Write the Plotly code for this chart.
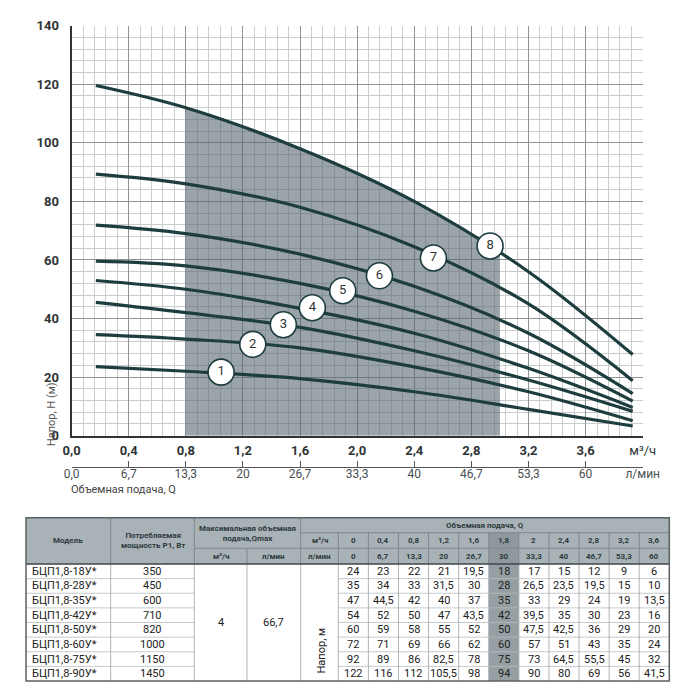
import plotly.graph_objects as go

# page body has an 8px margin, so the figure is sized to fill the rest of the window
OFF = 8
W, H = 700 - OFF, 700 - OFF

table_q = [0, 0.4, 0.8, 1.2, 1.6, 1.8, 2.0, 2.4, 2.8, 3.2, 3.6]
table_q_text = ["0", "0,4", "0,8", "1,2", "1,6", "1,8", "2", "2,4", "2,8", "3,2", "3,6"]
table_lmin_text = ["0", "6,7", "13,3", "20", "26,7", "30", "33,3", "40", "46,7", "53,3", "60"]

models = ["БЦП1,8-18У*", "БЦП1,8-28У*", "БЦП1,8-35У*", "БЦП1,8-42У*",
          "БЦП1,8-50У*", "БЦП1,8-60У*", "БЦП1,8-75У*", "БЦП1,8-90У*"]
power_w = [350, 450, 600, 710, 820, 1000, 1150, 1450]
qmax_m3h = "4"
qmax_lmin = "66,7"

head_18 = [24, 23, 22, 21, 19.5, 18, 17, 15, 12, 9, 6]
head_28 = [35, 34, 33, 31.5, 30, 28, 26.5, 23.5, 19.5, 15, 10]
head_35 = [47, 44.5, 42, 40, 37, 35, 33, 29, 24, 19, 13.5]
head_42 = [54, 52, 50, 47, 43.5, 42, 39.5, 35, 30, 23, 16]
head_50 = [60, 59, 58, 55, 52, 50, 47.5, 42.5, 36, 29, 20]
head_60 = [72, 71, 69, 66, 62, 60, 57, 51, 43, 35, 24]
head_75 = [92, 89, 86, 82.5, 78, 75, 73, 64.5, 55.5, 45, 32]
head_90 = [122, 116, 112, 105.5, 98, 94, 90, 80, 69, 56, 41.5]
heads = [head_18, head_28, head_35, head_42, head_50, head_60, head_75, head_90]

# curves: ends as drawn on the chart, middle points from the table at these flows
curve_start_q = 0.17
curve_end_q = 3.93
curve_mid_q = [0.8, 1.6, 2.4, 3.2]
curve_start_head = [23.6, 34.5, 45.5, 53.0, 59.6, 71.9, 89.3, 119.6]
curve_end_head = [3.3, 5.1, 8.3, 9.65, 11.8, 14.4, 18.8, 27.7]

# working zone (shaded) under curve 8
shade_start_q = 0.8
shade_end_q = 3.0
shade_end_head = 63

# numbered circle labels
label_num = ["1", "2", "3", "4", "5", "6", "7", "8"]
label_q = [1.047, 1.269, 1.483, 1.686, 1.899, 2.156, 2.534, 2.931]
label_h = [21.7, 31.2, 37.9, 43.7, 49.5, 54.6, 60.7, 64.8]

# axis labels
axis_q = [0.0, 0.4, 0.8, 1.2, 1.6, 2.0, 2.4, 2.8, 3.2, 3.6, 4.0]
axis_q_text = ["0,0", "0,4", "0,8", "1,2", "1,6", "2,0", "2,4", "2,8", "3,2", "3,6"]
axis_lmin_text = ["0,0", "6,7", "13,3", "20", "26,7", "33,3", "40", "46,7", "53,3", "60"]

CURVE = "#1e3d3f"
TXT = "#2f3436"


def fmt(v):
    return ("%g" % v).replace(".", ",")


def X(px):
    return (px - OFF) / W


def Y(py):
    return 1 - (py - OFF) / H


fig = go.Figure()

# shaded zone
sx = [q for q in table_q if shade_start_q <= q <= 2.8 and q != 1.8] + [shade_end_q]
sy = [h for q, h in zip(table_q, head_90) if shade_start_q <= q <= 2.8 and q != 1.8] + [shade_end_head]
fig.add_trace(go.Scatter(
    x=sx, y=sy, mode="lines", line=dict(width=0, shape="spline"),
    fill="tozeroy", fillcolor="rgba(88,104,112,0.6)", hoverinfo="skip"))

# performance curves
for i in range(8):
    mid = [heads[i][table_q.index(q)] for q in curve_mid_q]
    cx_ = [curve_start_q] + curve_mid_q + [curve_end_q]
    cy_ = [curve_start_head[i]] + mid + [curve_end_head[i]]
    fig.add_trace(go.Scatter(
        x=cx_, y=cy_, mode="lines",
        line=dict(color=CURVE, width=3.2, shape="spline", smoothing=1),
        name=models[i]))

# circle labels
fig.add_trace(go.Scatter(
    x=label_q, y=label_h, mode="markers+text", text=label_num,
    textposition="middle center",
    textfont=dict(family="Roboto", size=13, color="#333"),
    marker=dict(size=26, color="white", line=dict(color=CURVE, width=1.6))))

# secondary (л/мин) axis trace holder
fig.add_trace(go.Scatter(x=[0], y=[0], xaxis="x2", mode="markers",
                         marker=dict(opacity=0), hoverinfo="skip"))

dom_x = [X(71.6), X(642.7)]
dom_y = [Y(435.7), Y(25.7)]

fig.update_layout(
    width=W, height=H, margin=dict(l=0, r=0, t=0, b=0),
    paper_bgcolor="white", plot_bgcolor="white", showlegend=False,
    xaxis=dict(
        domain=dom_x, range=[0, 4.0], automargin=False,
        tickmode="array", tickvals=axis_q,
        ticktext=["<b>%s</b>" % t for t in axis_q_text] + ["м³/ч"],
        tickfont=dict(family="Roboto", size=13, color=TXT),
        showgrid=True, gridcolor="#8e9395", gridwidth=1,
        minor=dict(dtick=0.08, tick0=0, showgrid=True, gridcolor="#c9cdce", gridwidth=0.8),
        showline=True, linecolor="#2e3335", linewidth=2,
        zeroline=False, ticks="", ticklabelstandoff=2),
    xaxis2=dict(
        domain=dom_x, overlaying="x", anchor="free", position=Y(466.7), side="bottom",
        range=[0, 4.0], automargin=False, tickmode="array", tickvals=axis_q,
        ticktext=axis_lmin_text + ["л/мин"],
        tickfont=dict(family="Roboto", size=12, color="#4a4f51"),
        showgrid=False, showline=True, linecolor="#555", linewidth=1,
        ticks="inside", ticklen=6, tickcolor="#555", zeroline=False,
        ticklabelstandoff=-4),
    yaxis=dict(
        domain=dom_y, range=[0, 140], dtick=20, tick0=0, automargin=False,
        tickfont=dict(family="Roboto", size=13, color=TXT, weight="bold"),
        showgrid=True, gridcolor="#8e9395", gridwidth=1,
        minor=dict(dtick=4, tick0=0, showgrid=True, gridcolor="#c9cdce", gridwidth=0.8),
        showline=True, linecolor="#2e3335", linewidth=2,
        zeroline=False, ticks="", ticklabelstandoff=8),
)

ann = []
ann.append(dict(x=X(42.7), y=Y(414), xref="paper", yref="paper", text="Напор, H (м)",
                textangle=-90, showarrow=False,
                font=dict(family="Roboto", size=11, color="#555")))
ann.append(dict(x=X(69), y=Y(498), xref="paper", yref="paper", xanchor="left",
                text="Объемная подача, Q", showarrow=False,
                font=dict(family="Roboto", size=11, color="#444")))

# --- table ---
shapes = []
col_edges = [26, 110.7, 194.3, 247, 300.7, 338.3]
dw = (669.3 - 338.3) / len(table_q)
col_edges += [338.3 + dw * (k + 1) for k in range(len(table_q))]
hdr = [517.7, 532.7, 548.3, 564]
rh = (681 - 564) / len(models)
row_edges = [564 + rh * k for k in range(len(models) + 1)]
left, right, top, bottom = col_edges[0], col_edges[-1], hdr[0], row_edges[-1]
hi = table_q.index(1.8)
hx0, hx1 = col_edges[5 + hi], col_edges[6 + hi]


def rect(x0, y0, x1, y1, fill):
    shapes.append(dict(type="rect", xref="paper", yref="paper",
                       x0=X(x0), x1=X(x1), y0=Y(y1), y1=Y(y0),
                       fillcolor=fill, line=dict(width=0), layer="below"))


def seg(x0, y0, x1, y1, color, lw=1):
    shapes.append(dict(type="line", xref="paper", yref="paper",
                       x0=X(x0), x1=X(x1), y0=Y(y0), y1=Y(y1),
                       line=dict(color=color, width=lw)))


rect(left, top, right, hdr[3], "#a9b3b7")
rect(hx0, hdr[1], hx1, hdr[3], "#8f999d")
rect(hx0, hdr[3], hx1, bottom, "#969fa3")

HL = "#7f898d"
for k in [1, 2, 4]:
    seg(col_edges[k], top, col_edges[k], hdr[3], HL)
seg(col_edges[3], hdr[2], col_edges[3], hdr[3], HL)
for k in range(5, len(col_edges) - 1):
    seg(col_edges[k], hdr[1], col_edges[k], hdr[3], HL)
seg(col_edges[4], hdr[1], right, hdr[1], HL)
seg(col_edges[2], hdr[2], right, hdr[2], HL)

BL = "#b9bdbe"
for y in row_edges[1:-1]:
    seg(left, y, col_edges[2], y, BL, 0.8)
    seg(col_edges[5], y, right, y, BL, 0.8)
for x in col_edges[1:-1]:
    seg(x, hdr[3], x, bottom, "#9da3a5", 0.8)
seg(left, hdr[3], right, hdr[3], "#3e4649", 1.5)
shapes.append(dict(type="rect", xref="paper", yref="paper",
                   x0=X(left), x1=X(right), y0=Y(bottom), y1=Y(top),
                   line=dict(color="#5a6163", width=1.5)))

HF = dict(family="Roboto", size=8, color="#2d3a3d", weight="bold")
BF = dict(family="Roboto", size=11, color="#222")


def txt(x, y, s, font, xanchor="center", angle=0):
    ann.append(dict(x=X(x), y=Y(y), xref="paper", yref="paper", text=s, showarrow=False,
                    xanchor=xanchor, yanchor="middle", font=font, textangle=angle))


def cx(k):
    return (col_edges[k] + col_edges[k + 1]) / 2


txt(cx(0), (top + hdr[3]) / 2, "Модель", HF)
txt(cx(1), (top + hdr[3]) / 2, "Потребляемая<br>мощность P1, Вт", HF)
txt((col_edges[2] + col_edges[4]) / 2, (top + hdr[2]) / 2, "Максимальная объемная<br>подача,Qmax", HF)
txt(cx(2), (hdr[2] + hdr[3]) / 2, "м³/ч", HF)
txt(cx(3), (hdr[2] + hdr[3]) / 2, "л/мин", HF)
txt(cx(4), (hdr[1] + hdr[2]) / 2, "м³/ч", HF)
txt(cx(4), (hdr[2] + hdr[3]) / 2, "л/мин", HF)
txt((col_edges[4] + right) / 2, (top + hdr[1]) / 2, "Объемная подача, Q", HF)
for j in range(len(table_q)):
    txt(cx(5 + j), (hdr[1] + hdr[2]) / 2, table_q_text[j], HF)
    txt(cx(5 + j), (hdr[2] + hdr[3]) / 2, table_lmin_text[j], HF)

for i in range(len(models)):
    yc = (row_edges[i] + row_edges[i + 1]) / 2
    txt(left + 4, yc, models[i], BF, xanchor="left")
    txt(cx(1), yc, str(power_w[i]), BF)
    for j in range(len(table_q)):
        txt(cx(5 + j), yc, fmt(heads[i][j]), BF)

txt(cx(2), (hdr[3] + bottom) / 2, qmax_m3h, BF)
txt(cx(3), (hdr[3] + bottom) / 2, qmax_lmin, BF)
txt(cx(4) + 1, 651, "Напор, м", BF, angle=-90)

fig.update_layout(shapes=shapes, annotations=ann)
fig.write_html("out.html")
